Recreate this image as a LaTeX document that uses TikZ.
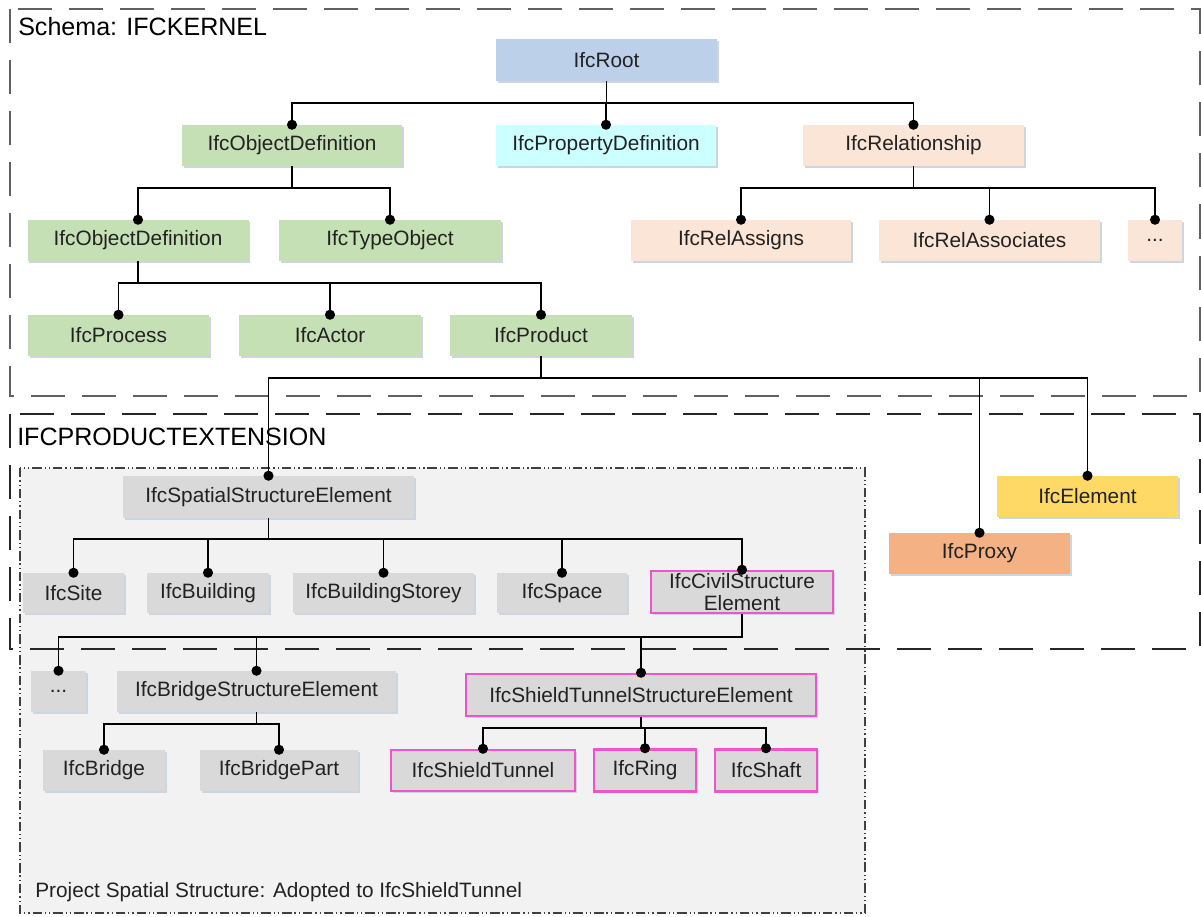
\documentclass[tikz,border=0pt]{standalone}
\usepackage{fontspec}
\setmainfont{Liberation Sans}
\usetikzlibrary{shadows}

\definecolor{rootblue}{HTML}{BDD0E9}
\definecolor{propcyan}{HTML}{CCFFFF}
\definecolor{kgreen}{HTML}{C5E0B4}
\definecolor{relpeach}{HTML}{FBE5D6}
\definecolor{spgray}{HTML}{D9D9D9}
\definecolor{elyellow}{HTML}{FFD966}
\definecolor{pxorange}{HTML}{F4B183}
\definecolor{tunnelpink}{HTML}{EE55CC}
\definecolor{regionfill}{HTML}{F2F2F2}
\definecolor{shadowc}{HTML}{CDD5E0}
\definecolor{txt}{HTML}{222222}

% connector with a dot on the child side
\newcommand\linkto[3]{%
  \draw[link] (#1.south) -- ++(0,#3) -| (#2.north);
  \fill[black] (#2.north) circle[radius=3.8pt];}

\begin{document}
\begin{tikzpicture}[x=0.75pt,y=-0.75pt,
  box/.style={rectangle, inner sep=0pt, text=txt,
    font=\fontsize{15.6}{17}\selectfont,
    general shadow={fill=shadowc, shadow xshift=1.2pt, shadow yshift=-1.2pt}},
  wh/.style 2 args={minimum width=#1*0.75pt, minimum height=#2*0.75pt},
  kernel/.style={box, fill=kgreen},
  rel/.style={box, fill=relpeach},
  spatial/.style={box, fill=spgray},
  tunnel/.style={box, fill=spgray, draw=tunnelpink, line width=1.9pt},
  link/.style={draw=black, line width=1.3pt},
  schemabox/.style={line width=1.5pt, dash pattern=on 25.5pt off 12.75pt},
  title/.style={font=\fontsize{18.8}{22}\selectfont, text=black, inner sep=0pt},
]
\useasboundingbox (0,0) rectangle (1201,916);

% project spatial structure region
\draw[fill=regionfill, draw=black!75, line width=1.1pt,
  dash pattern=on 7pt off 2.2pt on 1pt off 2.2pt on 1pt off 2.2pt]
  (20,468) rectangle (865,913);

% schema frames
\draw[schemabox, draw=black!62] (10,9) rectangle (1199.5,396);
\draw[schemabox, draw=black!85] (10,414) rectangle (1199.5,649);

\node[title, anchor=base west] (tkernel) at (18,36) {Schema: IFCKERNEL};
\node[title, anchor=base west] (tprodext) at (17,445) {IFCPRODUCTEXTENSION};
\node[anchor=base west, inner sep=0pt, text=txt, font=\fontsize{15.6}{17}\selectfont]
  (tspatial) at (35,897) {Project Spatial Structure: Adopted to IfcShieldTunnel};

% IFCKERNEL
\node[box, fill=rootblue, wh={221}{42}] (root) at (606.5,60) {IfcRoot};
\node[kernel, wh={220}{41}] (objdef) at (292,145.5) {IfcObjectDefinition};
\node[box, fill=propcyan, wh={220}{41}] (propdef) at (606,145.5) {IfcPropertyDefinition};
\node[rel, wh={221}{41}] (relship) at (913.5,145.5) {IfcRelationship};
\node[kernel, wh={221}{41}] (objdefb) at (138,240.5) {IfcObjectDefinition};
\node[kernel, wh={222}{41}] (typeobj) at (390,240.5) {IfcTypeObject};
\node[rel, wh={220}{41}] (relassigns) at (741,240.5) {IfcRelAssigns};
\node[rel, wh={221}{41}] (relassoc) at (989.5,240.5) {IfcRelAssociates};
\node[rel, wh={54}{41}] (reldots) at (1155,240.5) {...};
\node[kernel, wh={181}{41}] (process) at (118.5,335.5) {IfcProcess};
\node[kernel, wh={182}{41}] (actor) at (330,335.5) {IfcActor};
\node[kernel, wh={182}{41}] (product) at (541,335.5) {IfcProduct};

% IFCPRODUCTEXTENSION
\node[spatial, wh={291}{42}] (spatialse) at (268.5,497) {IfcSpatialStructureElement};
\node[box, fill=elyellow, wh={181}{41}] (element) at (1087.5,496.5) {IfcElement};
\node[box, fill=pxorange, wh={181}{41}] (proxy) at (979.5,553.5) {IfcProxy};
\node[spatial, wh={101}{40}] (site) at (73.5,593) {IfcSite};
\node[spatial, wh={122}{40}] (building) at (208,593) {IfcBuilding};
\node[spatial, wh={181}{40}] (storey) at (383.5,593) {IfcBuildingStorey};
\node[spatial, wh={130}{40}] (space) at (562,593) {IfcSpace};
\node[tunnel, wh={182}{42}, align=center,
  font=\fontsize{15.6}{17.5}\selectfont] (civil) at (742,592)
  {IfcCivilStructure\\[-0.5pt]Element};
\node[spatial, wh={55}{41}] (civdots) at (58.5,691.5) {...};
\node[spatial, wh={279}{41}] (bridgese) at (256.5,691.5) {IfcBridgeStructureElement};
\node[tunnel, wh={350}{42}] (shieldse) at (641,695) {IfcShieldTunnelStructureElement};
\node[spatial, wh={122}{41}] (bridge) at (104,770.5) {IfcBridge};
\node[spatial, wh={158}{41}] (bridgepart) at (279,770.5) {IfcBridgePart};
\node[tunnel, wh={184}{41}] (shieldtunnel) at (483,770.5) {IfcShieldTunnel};
\node[tunnel, wh={102}{42}] (ring) at (645,770.5) {IfcRing};
\node[tunnel, wh={102}{42}] (shaft) at (766,770.5) {IfcShaft};

% inheritance connectors
\linkto{root}{objdef}{22}
\linkto{root}{propdef}{22}
\linkto{root}{relship}{22}
\linkto{objdef}{objdefb}{22}
\linkto{objdef}{typeobj}{22}
\linkto{relship}{relassigns}{22}
\linkto{relship}{relassoc}{22}
\linkto{relship}{reldots}{22}
\linkto{objdefb}{process}{22}
\linkto{objdefb}{actor}{22}
\linkto{objdefb}{product}{22}
\linkto{product}{spatialse}{22}
\linkto{product}{proxy}{22}
\linkto{product}{element}{22}
\linkto{spatialse}{site}{21}
\linkto{spatialse}{building}{21}
\linkto{spatialse}{storey}{21}
\linkto{spatialse}{space}{21}
\linkto{spatialse}{civil}{21}
\linkto{civil}{civdots}{23}
\linkto{civil}{bridgese}{23}
\linkto{civil}{shieldse}{23}
\linkto{bridgese}{bridge}{12}
\linkto{bridgese}{bridgepart}{12}
\linkto{shieldse}{shieldtunnel}{11}
\linkto{shieldse}{ring}{11}
\linkto{shieldse}{shaft}{11}
\end{tikzpicture}
\end{document}
